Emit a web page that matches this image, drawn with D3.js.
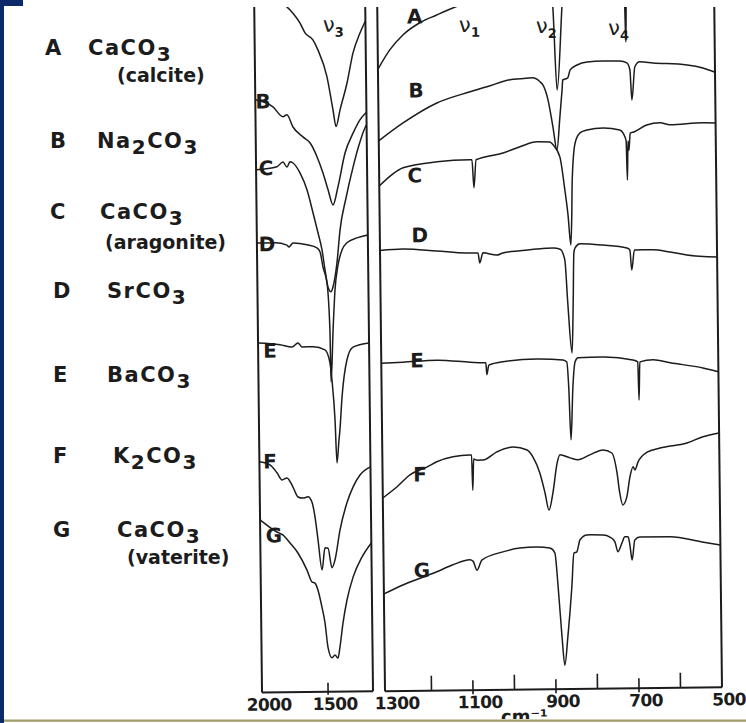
<!DOCTYPE html>
<html>
<head>
<meta charset="utf-8">
<script src="https://cdn.jsdelivr.net/npm/d3@7"></script>
<style>
  html, body { margin: 0; padding: 0; background: #fff; }
  svg { display: block; }
</style>
</head>
<body>
<svg id="fig" width="746" height="723"></svg>
<script>
// ---------------------------------------------------------------
// Infrared spectra of carbonates (A–G), two wavenumber ranges.
// Each spectrum: [wavenumber (cm-1), relative transmittance (offset units)]
// ---------------------------------------------------------------
const letters  = ["A", "B", "C", "D", "E", "F", "G"];
const formulas = ["CaCO3", "Na2CO3", "CaCO3", "SrCO3", "BaCO3", "K2CO3", "CaCO3"];
const phases   = ["(calcite)", "", "(aragonite)", "", "", "", "(vaterite)"];

// 2000–1160 cm-1 range (v3 region)
const lowA = [[1840,177],[1774,172.1],[1730,170.6],[1656,167.3],[1618,164.8],[1559,163],[1522,160.5],[1456,153.8],[1413,145.5],[1391,141.3],[1360,145.4],[1304,152.2],[1257,159.6],[1202,164.6],[1160,167.6]];
const lowB = [[2000,148.2],[1867,146.4],[1792,143.9],[1762,144.4],[1717,141.3],[1643,138.8],[1590,137.3],[1538,133.8],[1494,129.7],[1457,125.5],[1421,121.7],[1382,126.2],[1325,134.7],[1263,139.6],[1210,142.9],[1160,144.8]];
const lowC = [[2000,130.7],[1842,131.4],[1796,132.6],[1766,131.3],[1743,132.6],[1720,132.3],[1668,129.8],[1616,125.5],[1573,119.8],[1537,114.8],[1508,110.5],[1487,105.5],[1466,101.2],[1444,100],[1428,101.2],[1396,107.2],[1370,115.4],[1322,123.4],[1266,131.1],[1219,136.6],[1172,140.9],[1160,141.6]];
const lowD = [[2000,112.4],[1863,112.4],[1773,111.8],[1758,111.3],[1727,112.3],[1621,111.8],[1546,111],[1523,110],[1502,106.2],[1473,102.2],[1455,90.5],[1451,77.5],[1431,90.5],[1413,100.5],[1388,106.7],[1357,110.4],[1319,112.2],[1242,113.4],[1160,114.1]];
const lowE = [[2000,87.4],[1834,86.9],[1743,86.3],[1698,87.3],[1668,86.3],[1584,86.3],[1494,85.5],[1457,82.2],[1444,78],[1424,67.9],[1413,57.2],[1396,62.9],[1388,65.4],[1369,73.7],[1329,82.9],[1282,86.1],[1160,87.1]];
const lowF = [[2000,57.7],[1921,56.9],[1868,54.9],[1830,53.1],[1793,53.6],[1748,51.3],[1711,48.8],[1673,48.5],[1635,48.8],[1606,47.5],[1584,43.8],[1563,38],[1535,30.5],[1511,36],[1488,35.9],[1460,31],[1436,33],[1396,40.4],[1341,47.2],[1294,51.1],[1240,54.1],[1160,56.1]];
const lowG = [[2000,43.2],[1873,40.1],[1827,39.3],[1775,37.3],[1716,34.8],[1649,30.5],[1612,27.5],[1590,27.2],[1568,25.5],[1539,21.2],[1517,17.2],[1497,11.2],[1467,8.5],[1444,9.2],[1422,8.4],[1406,11.2],[1381,17.2],[1349,22.9],[1301,28.6],[1232,33.6],[1160,37.1]];

// 1312–500 cm-1 range (v1, v2, v4 region)
const highA = [[1312,155.5],[1283,160.3],[1251,164],[1210,167],[1169,168.9],[1130,170.6],[1096,171.8],[1064,172.5],[1000,175],[930,177],[895,178],[889,170.6],[881,149.8],[867,170.6],[862,178],[800,179],[740,179],[720,178],[716,172],[714,161.6],[712,172],[706,178],[600,178],[500,178]];
const highB = [[1312,137.6],[1253,142],[1171,146.9],[1091,149.6],[1050,150.8],[994,152.5],[970,152.7],[939,152.9],[922,151.9],[915,151.1],[903,147.3],[892,140.6],[883,134.8],[875,143],[869,149.8],[867,152.3],[855,152.8],[849,154.8],[832,156],[808,156.7],[770,156.9],[729,156.9],[712,156.4],[705,154.6],[701,147.1],[693,155.4],[681,156.6],[649,156.3],[567,155.7],[529,154.9],[500,153.8]];
const highC = [[1312,126.3],[1254,130.8],[1172,132.2],[1093,132.6],[1088,132.6],[1084,125.6],[1078,132.6],[1013,134.2],[972,135.7],[931,136.9],[900,136.8],[892,136.1],[876,133],[865,124.8],[858,118.5],[852,111],[849,118.5],[847,127.2],[839,136.5],[827,139],[810,139.7],[771,140.2],[731,139.6],[719,137.9],[716,136.8],[714,127.1],[711.5,136.8],[709.5,134.5],[706,138.8],[697,139.1],[666,140.8],[634,141.3],[610,140.8],[531,141.2],[500,141.1]];
const highD = [[1312,110.2],[1257,110.5],[1175,109.9],[1103,109.3],[1076,109.3],[1072,106.8],[1064,109.3],[1031,108.7],[1016,109.2],[975,109.7],[934,110.1],[895,110.3],[878,110],[867,107.3],[861,96.5],[852,84],[848,96.5],[845,109],[842,110.3],[830,111.3],[775,110.9],[717,110.1],[710,109.6],[706,104.6],[699,109.6],[654,109.6],[614,109],[573,108.2],[500,107.6]];
const highE = [[1312,82],[1260,82.2],[1178,82.6],[1098,82],[1067,81.8],[1060,81.8],[1058,78.8],[1053,81.2],[1019,82],[937,82.6],[874,82.3],[865,81.8],[861,75.5],[857,62.3],[851,75.5],[845,81.8],[838,82.8],[778,82.9],[706,82.1],[694,81.6],[692,72.1],[689,81.6],[657,82.1],[616,81.3],[537,79.9],[500,78.9]];
const highF = [[1312,48.3],[1278,51],[1246,54],[1205,55.9],[1181,57.2],[1142,58.4],[1101,58.8],[1097,58.8],[1095,50],[1092,57.8],[1084,57.5],[1070,57.5],[1036,59.5],[997,60.7],[963,59.9],[949,58.1],[933,54.1],[921,49.1],[912,44.8],[902,49.1],[891,56.6],[884,58.6],[860,57.8],[841,57.3],[812,58.5],[780,59.7],[759,58.9],[747,53.9],[741,48.9],[734,45.9],[724,47.9],[716,52.9],[708,55.4],[704,54.6],[696,56.6],[674,59],[643,60],[578,61.2],[539,62.7],[500,63.6]];
const highG = [[1312,24.3],[1266,26.5],[1184,29.7],[1145,31.4],[1104,32.6],[1096,32.2],[1087,30],[1075,32.5],[1024,34.5],[983,35.4],[942,35.6],[911,35.3],[899,34.1],[892,25.6],[884,13.1],[878,6],[870,13],[859,25.5],[853,34],[846,34.3],[838,37.3],[821,38.5],[782,38.4],[766,37.9],[754,36.7],[747,34.2],[737,36.4],[730,37.9],[722,37.9],[718,35.9],[713,32.1],[706,37.1],[694,37.8],[621,37.8],[544,36.4],[500,35.6]];

// Axis ticks
const lowTickLabels  = [2000, 1500];
const highTickLabels = [1300, 1100, 900, 700, 500];
const highMinorTicks = [1200, 1000, 800, 600];

// Curve identifiers [text, wavenumber, value] and vibration modes [symbol, index, wavenumber, value]
const lowCurveTags  = [["B",1942,147.9],["C",1925,131.2],["D",1924,112.2],["E",1911,85.6],["F",1920,57.9],["G",1896,39.4]];
const highCurveTags = [["A",1222,168.7],["B",1221,150.2],["C",1226,129],["D",1216,114],["E",1226,82.7],["F",1222,54.2],["G",1220,30.2]];
const lowModes  = [["ν","3",1436,166.5]];
const highModes = [["ν","1",1101,166.1],["ν","2",916,165.6],["ν","4",742,164.9]];

// ---------------------------------------------------------------
const FONT = "'DejaVu Sans', 'Liberation Sans', sans-serif";
const INK = "#1c1c1c";

const xLow  = d3.scaleLinear().domain([2000, 1160]).range([262, 373]);
const xHigh = d3.scaleLinear().domain([1312, 500]).range([385, 722]);
const y     = d3.scaleLinear().domain([0, 170]).range([690, 10]);

const svg = d3.select("#fig");
svg.append("rect").attr("width", 746).attr("height", 723).attr("fill", "#fff");

svg.append("defs").append("clipPath").attr("id", "plotClip")
  .append("rect").attr("x", 0).attr("y", 7).attr("width", 746).attr("height", 712);

const outer = svg.append("g").attr("clip-path", "url(#plotClip)");
// the whole plate sits slightly turned
const plate = outer.append("g").attr("transform", "rotate(-0.65,490,690)");

// --- frames ---
function drawFrame(xs) {
  const [x0, x1] = xs.range();
  const yb = y.range()[0];
  const f = plate.append("g").attr("stroke", INK).attr("stroke-width", 2).attr("fill", "none");
  f.append("line").attr("x1", x0).attr("x2", x0).attr("y1", -40).attr("y2", yb);
  f.append("line").attr("x1", x1).attr("x2", x1).attr("y1", -40).attr("y2", yb);
  f.append("line").attr("x1", x0).attr("x2", x1).attr("y1", yb).attr("y2", yb);
}
drawFrame(xLow);
drawFrame(xHigh);

// --- ticks ---
const yb = y.range()[0];
function tickMarks(xs, values, up, down) {
  plate.append("g").selectAll("line").data(values).join("line")
    .attr("x1", d => xs(d)).attr("x2", d => xs(d))
    .attr("y1", yb - up).attr("y2", yb + down)
    .attr("stroke", INK).attr("stroke-width", 1.6);
}
tickMarks(xLow, [1500], 9, 3);
tickMarks(xHigh, [1100, 900, 700], 10, 4);
tickMarks(xHigh, highMinorTicks, 15, 0);

function tickLabels(xs, values) {
  plate.append("g").selectAll("text").data(values).join("text")
    .attr("x", d => xs(d) + 7).attr("y", 708)
    .attr("text-anchor", "middle")
    .attr("font-family", FONT).attr("font-weight", "bold").attr("font-size", 17)
    .attr("letter-spacing", -0.6)
    .attr("fill", INK)
    .text(d => d);
}
tickLabels(xLow, lowTickLabels);
tickLabels(xHigh, highTickLabels);

// axis unit, partly hidden under the lower page rule
plate.append("text")
  .attr("x", 524).attr("y", 723).attr("text-anchor", "middle")
  .attr("font-family", FONT).attr("font-weight", "bold").attr("font-size", 18)
  .attr("fill", INK)
  .text("cm⁻¹");

// --- spectra ---
function drawSpectra(xs, series) {
  const line = d3.line()
    .x(d => xs(d[0]))
    .y(d => y(d[1]))
    .curve(d3.curveMonotoneX);
  plate.append("g").selectAll("path").data(series).join("path")
    .attr("d", line)
    .attr("fill", "none")
    .attr("stroke", INK)
    .attr("stroke-width", 1.5)
    .attr("stroke-linejoin", "round");
}
drawSpectra(xLow,  [lowA, lowB, lowC, lowD, lowE, lowF, lowG]);
drawSpectra(xHigh, [highA, highB, highC, highD, highE, highF, highG]);

// --- curve tags ---
function curveTags(xs, tags) {
  plate.append("g").selectAll("text").data(tags).join("text")
    .attr("x", d => xs(d[1])).attr("y", d => y(d[2]) + 7.5)
    .attr("text-anchor", "middle")
    .attr("font-family", FONT).attr("font-weight", "bold").attr("font-size", 20)
    .attr("fill", INK)
    .text(d => d[0]);
}
curveTags(xLow, lowCurveTags);
curveTags(xHigh, highCurveTags);

// --- vibration modes ---
function modeLabels(xs, modes) {
  const t = plate.append("g").selectAll("text").data(modes).join("text")
    .attr("x", d => xs(d[2]) - 6).attr("y", d => y(d[3]) + 6)
    .attr("font-family", FONT).attr("font-size", 21)
    .attr("fill", INK);
  t.append("tspan").text(d => d[0]);
  t.append("tspan").attr("dy", 5).attr("font-size", 13).attr("font-weight", "bold").text(d => d[1]);
}
modeLabels(xLow, lowModes);
modeLabels(xHigh, highModes);

// --- compound legend on the left ---
const legendX  = [45, 50, 50, 53, 53, 53, 53];
const formulaX = [88, 97, 100, 107, 107, 113, 117];
const rowBase  = [55, 148, 219, 298, 382, 463, 537];
const phaseX   = [117, 0, 105, 0, 0, 0, 127];
const phaseY   = [82, 0, 249, 0, 0, 0, 564];

const legend = svg.append("g")
  .attr("font-family", FONT).attr("font-weight", "bold").attr("fill", INK);

letters.forEach((L, i) => {
  legend.append("text").attr("x", legendX[i]).attr("y", rowBase[i])
    .attr("font-size", 21).text(L);

  const f = legend.append("text").attr("x", formulaX[i]).attr("y", rowBase[i])
    .attr("font-size", 21).attr("letter-spacing", 1.5);
  let lowered = false;
  formulas[i].split(/(\d+)/).filter(s => s.length).forEach(part => {
    const ts = f.append("tspan").text(part);
    if (/^\d+$/.test(part)) {
      ts.attr("dy", 6).attr("font-size", 20);
      lowered = true;
    } else if (lowered) {
      ts.attr("dy", -6);
      lowered = false;
    }
  });

  if (phases[i]) {
    legend.append("text").attr("x", phaseX[i]).attr("y", phaseY[i])
      .attr("font-size", 19).text(phases[i]);
  }
});

// --- page furniture ---
svg.append("rect").attr("x", 0).attr("y", 719.5).attr("width", 746).attr("height", 2.3).attr("fill", "#a39d6d");
svg.append("rect").attr("x", 0).attr("y", 0).attr("width", 4).attr("height", 723).attr("fill", "#0c2a6a");
svg.append("rect").attr("x", 0).attr("y", 0).attr("width", 23).attr("height", 6).attr("fill", "#0c2a6a");
</script>
</body>
</html>
